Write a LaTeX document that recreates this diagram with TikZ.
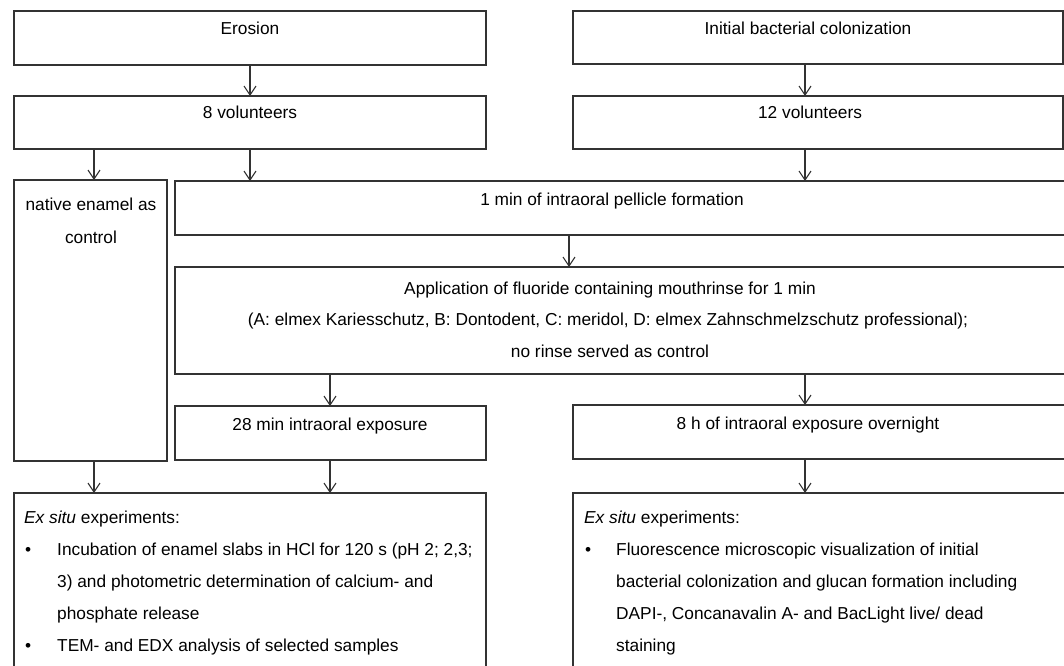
\documentclass[tikz,border=0pt]{standalone}
\usepackage{fontspec}
\setmainfont{Liberation Sans}
\usetikzlibrary{arrows.meta}
\definecolor{linec}{HTML}{333333}
\begin{document}
\begin{tikzpicture}[x=1pt,y=-1pt,
  box/.style={draw=linec, line width=1.2pt, fill=white, anchor=north west, inner sep=0pt, outer sep=0pt},
  txt/.style={inner sep=0pt, font=\fontsize{17.3}{20}\selectfont, text=black},
  arr/.style={draw=linec, line width=1.1pt, -{Straight Barb[length=9pt,width=12pt,line width=1.1pt]}}]
\path[use as bounding box] (0,0) rectangle (1064,665);
\clip (0,0) rectangle (1064,665);
% column coordinates
\coordinate (cA) at (94,0);
\coordinate (cB) at (250,0);
\coordinate (cC) at (330,0);
\coordinate (cP) at (569,0);
\coordinate (cR) at (805,0);
% boxes
\node[box, minimum width=472pt, minimum height=54pt] (ero) at (14,11) {};
\node[box, minimum width=490pt, minimum height=53pt] (init) at (573,11) {};
\node[box, minimum width=472pt, minimum height=53pt] (vol8) at (14,96) {};
\node[box, minimum width=490pt, minimum height=53pt] (vol12) at (573,96) {};
\node[box, minimum width=153pt, minimum height=281pt] (nat) at (14,180) {};
\node[box, minimum width=900pt, minimum height=54pt] (pel) at (175,181) {};
\node[box, minimum width=900pt, minimum height=107pt] (app) at (175,267) {};
\node[box, minimum width=311pt, minimum height=54pt] (m28) at (175,406) {};
\node[box, minimum width=502pt, minimum height=54pt] (h8) at (573,405) {};
\node[box, minimum width=472pt, minimum height=210pt] (exl) at (14,493) {};
\node[box, minimum width=502pt, minimum height=210pt] (exr) at (573,493) {};
% arrows
\draw[arr] (ero.south) -- (vol8.north);
\draw[arr] (init.south -| cR) -- (vol12.north -| cR);
\draw[arr] (vol8.south -| cA) -- (nat.north -| cA);
\draw[arr] (vol8.south -| cB) -- (pel.north -| cB);
\draw[arr] (vol12.south -| cR) -- (pel.north -| cR);
\draw[arr] (pel.south -| cP) -- (app.north -| cP);
\draw[arr] (app.south -| cC) -- (m28.north -| cC);
\draw[arr] (app.south -| cR) -- (h8.north -| cR);
\draw[arr] (nat.south -| cA) -- (exl.north -| cA);
\draw[arr] (m28.south -| cC) -- (exl.north -| cC);
\draw[arr] (h8.south -| cR) -- (exr.north -| cR);
% texts
\node[txt, anchor=base] (tEro) at (250,34) {Erosion};
\node[txt, anchor=base] (tInit) at (808,34) {Initial bacterial colonization};
\node[txt, anchor=base] (tV8) at (250,118) {8 volunteers};
\node[txt, anchor=base] (tV12) at (810,118) {12 volunteers};
\node[txt, anchor=base] (tNat1) at (91,210) {native enamel as};
\node[txt, anchor=base] (tNat2) at (91,243) {control};
\node[txt, anchor=base] (tPel) at (612,205) {1 min of intraoral pellicle formation};
\node[txt, anchor=base] (tApp1) at (610,294) {Application of fluoride containing mouthrinse for 1 min};
\node[txt, anchor=base] (tApp2) at (608,325) {(A: elmex Kariesschutz, B: Dontodent, C: meridol, D: elmex Zahnschmelzschutz professional);};
\node[txt, anchor=base] (tApp3) at (610,357) {no rinse served as control};
\node[txt, anchor=base] (t28) at (330,430) {28 min intraoral exposure};
\node[txt, anchor=base] (t8h) at (808,429) {8 h of intraoral exposure overnight};
% left list
\node[txt, anchor=base west] (tL0) at (24,523) {\textit{Ex situ} experiments:};
\node[txt, anchor=base west] (bL1) at (25,555) {•};
\node[txt, anchor=base west] (tL1) at (57,555) {Incubation of enamel slabs in HCl for 120 s (pH 2; 2,3;};
\node[txt, anchor=base west] (tL2) at (57,587) {3) and photometric determination of calcium- and};
\node[txt, anchor=base west] (tL3) at (57,619) {phosphate release};
\node[txt, anchor=base west] (bL4) at (25,651) {•};
\node[txt, anchor=base west] (tL4) at (57,651) {TEM- and EDX analysis of selected samples};
% right list
\node[txt, anchor=base west] (tR0) at (584,523) {\textit{Ex situ} experiments:};
\node[txt, anchor=base west] (bR1) at (585,555) {•};
\node[txt, anchor=base west] (tR1) at (616,555) {Fluorescence microscopic visualization of initial};
\node[txt, anchor=base west] (tR2) at (616,587) {bacterial colonization and glucan formation including};
\node[txt, anchor=base west] (tR3) at (616,619) {DAPI-, Concanavalin A- and BacLight live/ dead};
\node[txt, anchor=base west] (tR4) at (616,651) {staining};
\end{tikzpicture}
\end{document}
